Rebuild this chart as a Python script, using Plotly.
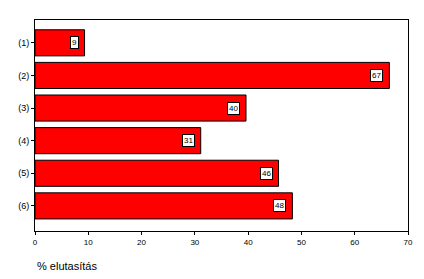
import plotly.graph_objects as go

categories = ["(1)", "(2)", "(3)", "(4)", "(5)", "(6)"]
values = [9.3, 66.5, 39.6, 31.1, 45.7, 48.3]
labels = ["9", "67", "40", "31", "46", "48"]
x_ticks = [0, 10, 20, 30, 40, 50, 60, 70]
x_title = "% elutasítás"

pos = list(range(len(categories)))

fig = go.Figure()
fig.add_trace(go.Bar(
    x=values, y=pos, orientation="h",
    marker=dict(color="#ff0000", line=dict(color="#000000", width=1)),
    width=0.8, hoverinfo="skip", showlegend=False,
))

for p, v, t in zip(pos, values, labels):
    fig.add_annotation(
        x=v, y=p, xref="x", yref="y", text=t, showarrow=False,
        xanchor="right", xshift=-6,
        font=dict(family="Arial, Liberation Sans", size=8, color="black"),
        bgcolor="white", bordercolor="black", borderwidth=1, borderpad=1,
    )

fig.add_annotation(
    x=0, y=-(266 - 231) / 211, xref="paper", yref="paper", text=x_title,
    showarrow=False, xanchor="left", yanchor="middle",
    font=dict(family="Arial, Liberation Sans", size=11, color="black"),
)

fig.update_layout(
    width=424, height=279,
    margin=dict(l=35, r=11, t=20, b=48),
    paper_bgcolor="white", plot_bgcolor="white",
    font=dict(family="Arial, Liberation Sans", size=9, color="black"),
    xaxis=dict(
        range=[0, 70], tickvals=x_ticks, showgrid=False, zeroline=False,
        showline=True, linecolor="black", linewidth=1, mirror=True,
        ticks="outside", ticklen=3, tickcolor="black", tickfont=dict(size=8),
    ),
    yaxis=dict(
        range=[5.77, -0.7], tickvals=pos, ticktext=categories,
        showgrid=False, zeroline=False,
        showline=True, linecolor="black", linewidth=1, mirror=True,
        ticks="outside", ticklen=3, tickcolor="black", tickfont=dict(size=9),
    ),
)

fig.write_html("out.html")
